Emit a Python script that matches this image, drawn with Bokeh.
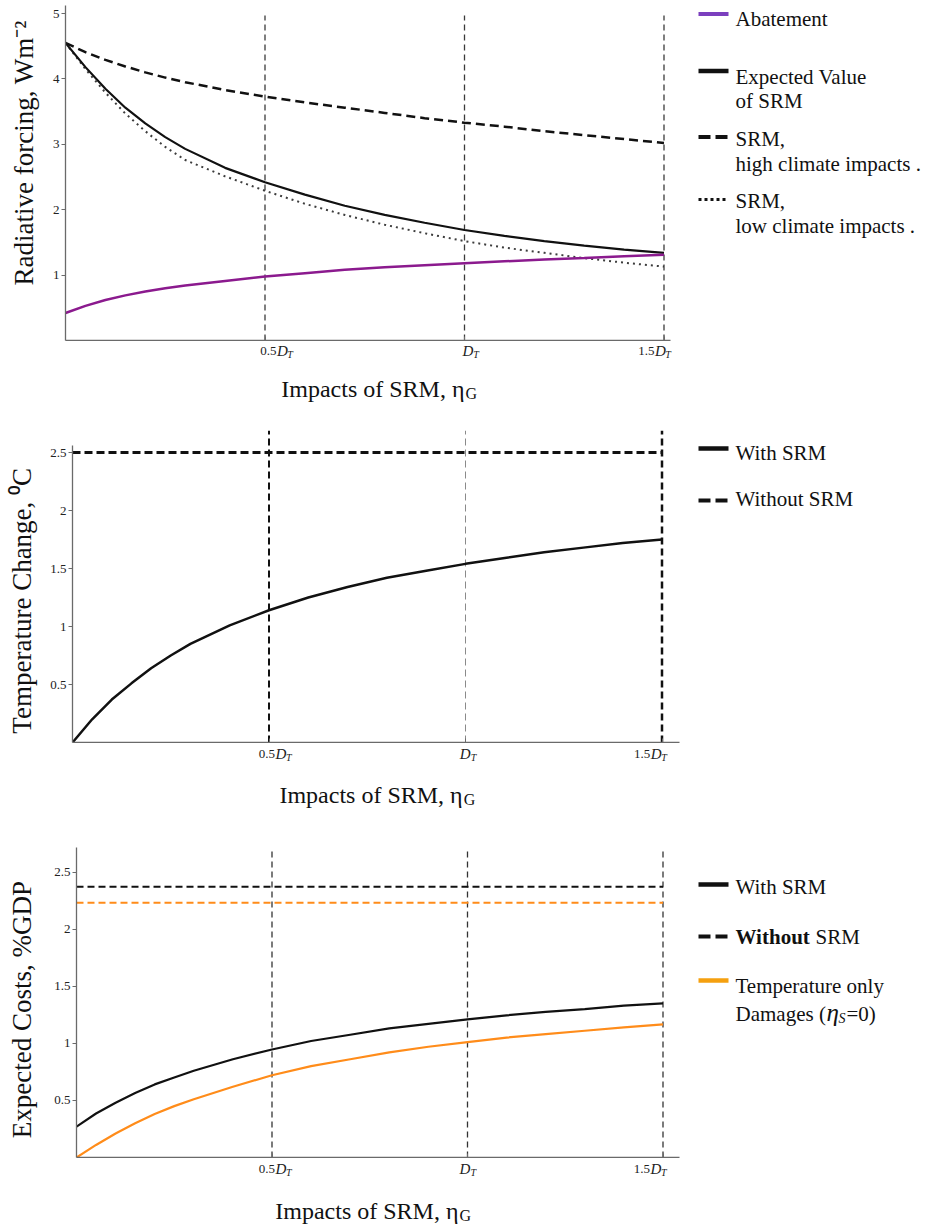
import math
from bokeh.plotting import figure
from bokeh.models import Range1d, FixedTicker, Label, LinearAxis, ColumnDataSource
from bokeh.layouts import column, row
from bokeh.embed import file_html
from bokeh.resources import INLINE

# ---------------- data ----------------
eta = [0, 0.05, 0.1, 0.15, 0.2, 0.25, 0.3, 0.4, 0.5, 0.6, 0.7, 0.8, 0.9, 1.0, 1.1, 1.2, 1.3, 1.4, 1.5]

rf_abatement = [0.42, 0.53, 0.62, 0.69, 0.75, 0.80, 0.84, 0.91, 0.98, 1.03, 1.08, 1.12, 1.15, 1.18, 1.21, 1.24, 1.26, 1.29, 1.31]
rf_expected = [4.55, 4.18, 3.85, 3.56, 3.32, 3.11, 2.93, 2.64, 2.42, 2.23, 2.06, 1.92, 1.80, 1.69, 1.60, 1.52, 1.45, 1.39, 1.34]
rf_high = [4.55, 4.41, 4.29, 4.19, 4.10, 4.02, 3.95, 3.83, 3.73, 3.64, 3.56, 3.48, 3.40, 3.33, 3.27, 3.20, 3.14, 3.08, 3.02]
rf_low = [4.55, 4.15, 3.79, 3.47, 3.20, 2.96, 2.76, 2.51, 2.29, 2.09, 1.92, 1.77, 1.64, 1.52, 1.42, 1.34, 1.26, 1.19, 1.13]

temp_with = [0.0, 0.20, 0.37, 0.51, 0.64, 0.75, 0.85, 1.01, 1.14, 1.25, 1.34, 1.42, 1.48, 1.54, 1.59, 1.64, 1.68, 1.72, 1.75]
flat_x = [0, 1.5]
temp_without = [2.5, 2.5]

cost_with = [0.27, 0.385, 0.48, 0.565, 0.64, 0.70, 0.76, 0.86, 0.946, 1.02, 1.075, 1.13, 1.17, 1.21, 1.245, 1.275, 1.30, 1.33, 1.35]
cost_temp_only = [0.0, 0.11, 0.21, 0.30, 0.38, 0.45, 0.51, 0.62, 0.72, 0.80, 0.86, 0.92, 0.97, 1.01, 1.05, 1.08, 1.11, 1.14, 1.165]
cost_without = [2.37, 2.37]
cost_without_temp = [2.23, 2.23]

dt_marks = [0.5, 1.0, 1.5]
dt_prefix = ["0.5", "", "1.5"]
rf_ticks = [1, 2, 3, 4, 5]
rf_tick_labels = ["1", "2", "3", "4", "5"]
half_ticks = [0.5, 1, 1.5, 2, 2.5]
half_tick_labels = ["0.5", "1", "1.5", "2", "2.5"]

# ---------------- layout helpers ----------------
FONT = "Liberation Serif"
ORIGIN = 0          # page offset of the layout's top-left corner
PAGE_RIGHT = 922
FIG_W = PAGE_RIGHT - ORIGIN
YS_W = 40           # width of the strip holding the rotated y title
AXIS_GREY = "#6a6a6a"


def bare(fig):
    fig.outline_line_color = None
    fig.background_fill_color = "white"
    fig.border_fill_color = "white"
    return fig


def make_panel(top, main_bottom, strip_bottom, frame_top, frame_bottom, axis_x, xs, ys):
    x1 = (PAGE_RIGHT - axis_x) / xs
    y1 = (frame_bottom - frame_top) / ys
    h_main = main_bottom - top
    xr = Range1d(0, x1)
    main = bare(figure(width=FIG_W - YS_W, height=h_main, x_range=xr, y_range=Range1d(0, y1),
                       output_backend="svg", toolbar_location=None, x_axis_type=None, y_axis_type=None,
                       min_border_left=axis_x - ORIGIN - YS_W, min_border_right=0,
                       min_border_top=frame_top - top, min_border_bottom=main_bottom - frame_bottom))
    ystrip = bare(figure(width=YS_W, height=h_main, x_range=Range1d(ORIGIN, ORIGIN + YS_W),
                         y_range=Range1d(main_bottom, top), output_backend="svg", toolbar_location=None,
                         x_axis_type=None, y_axis_type=None, min_border=0))
    xstrip = bare(figure(width=FIG_W, height=strip_bottom - main_bottom, x_range=xr,
                         y_range=Range1d(strip_bottom, main_bottom), output_backend="svg",
                         toolbar_location=None, x_axis_type=None, y_axis_type=None,
                         min_border_left=axis_x - ORIGIN, min_border_right=0, min_border_top=0,
                         min_border_bottom=0))
    spec = dict(axis_x=axis_x, xs=xs, ys=ys, fb=frame_bottom, y1=y1)
    return main, ystrip, xstrip, spec


def dx(spec, px):
    return (px - spec["axis_x"]) / spec["xs"]


def dy(spec, py):
    return (spec["fb"] - py) / spec["ys"]


def label(fig, x, y, s, size, align="left", baseline="middle", style="normal", angle=0.0, color="#111111"):
    fig.add_layout(Label(x=x, y=y, text=s, text_font=FONT, text_font_size=f"{size}px",
                         text_align=align, text_baseline=baseline, text_font_style=style,
                         angle=angle, text_color=color))


def text(p, spec, px, py, s, size, **kw):
    label(p, dx(spec, px), dy(spec, py), s, size, **kw)


def swatch(p, spec, px0, px1, py, color, width, dash="solid"):
    p.segment(x0=[dx(spec, px0)], y0=[dy(spec, py)], x1=[dx(spec, px1)], y1=[dy(spec, py)],
              line_color=color, line_width=width, line_dash=dash, line_cap="butt")


def axes(p, yticks, ylabels, xbound_end, ybound_end):
    xa = LinearAxis(ticker=FixedTicker(ticks=dt_marks), bounds=(0, xbound_end),
                    major_label_overrides={t: "" for t in dt_marks},
                    major_label_text_font_size="0px", major_label_standoff=0,
                    axis_line_color=AXIS_GREY, axis_line_width=1.3,
                    major_tick_line_color=AXIS_GREY, major_tick_in=4, major_tick_out=0,
                    minor_tick_line_color=None)
    p.add_layout(xa, "below")
    ya = LinearAxis(ticker=FixedTicker(ticks=yticks), bounds=(0, ybound_end),
                    major_label_overrides={t: l for t, l in zip(yticks, ylabels)},
                    axis_line_color=AXIS_GREY, axis_line_width=1.3,
                    major_tick_line_color=AXIS_GREY, major_tick_in=0, major_tick_out=4,
                    minor_tick_line_color=None, major_label_standoff=2,
                    major_label_text_font=FONT, major_label_text_font_size="13px",
                    major_label_text_color="#222222")
    p.add_layout(ya, "left")


# offsets (px from tick) for: prefix right edge, "D" left edge, "T" left edge
DT_OFFSETS = [(3, 3.5, 14), (0, -8, 3), (-13, -12.5, -2)]


def dt_labels(xstrip, spec, mid_py):
    for t, pre, (o_pre, o_d, o_t) in zip(dt_marks, dt_prefix, DT_OFFSETS):
        px = lambda off: t + off / spec["xs"]
        if pre:
            label(xstrip, px(o_pre), mid_py, pre, 13, align="right", color="#222222")
        label(xstrip, px(o_d), mid_py, "D", 15, style="italic", color="#222222")
        label(xstrip, px(o_t), mid_py + 4, "T", 10, style="italic", color="#222222")


def x_title(xstrip, spec, anchor_px, mid_py):
    label(xstrip, dx(spec, anchor_px), mid_py, "Impacts of SRM, η", 24, align="right")
    label(xstrip, dx(spec, anchor_px + 1), mid_py + 5, "G", 16)


def y_title(ystrip, px, py, s):
    label(ystrip, px, py, s, 27, align="center", angle=math.pi / 2)


def verticals(p, top, widths, colors, dash):
    src = ColumnDataSource(dict(x=dt_marks, y0=[0] * len(dt_marks), y1=[top] * len(dt_marks),
                                w=widths, c=colors))
    p.segment(x0="x", y0="y0", x1="x", y1="y1", source=src, line_width="w", line_color="c",
              line_dash=dash)


SW0, SW1, TX = 698, 728, 735

# ---------------- panel 1: radiative forcing ----------------
p1, y1s, x1s, s1 = make_panel(top=0, main_bottom=341, strip_bottom=415, frame_top=5, frame_bottom=340,
                              axis_x=65, xs=399, ys=65.4)
axes(p1, rf_ticks, rf_tick_labels, 1.516, s1["y1"])
verticals(p1, 4.97, [1.3, 1.3, 1.3], ["#3a3a3a"] * 3, "6 4")
p1.line(eta, rf_high, line_color="#111111", line_width=2.5, line_dash="9 5")
p1.line(eta, rf_low, line_color="#3c3c3c", line_width=2, line_dash="2 4")
p1.line(eta, rf_expected, line_color="#111111", line_width=2.2)
p1.line(eta, rf_abatement, line_color="#8b1a8e", line_width=2.5)
dt_labels(x1s, s1, 350)
x_title(x1s, s1, 458, 388)
y_title(y1s, 23, 150, "Radiative forcing, Wm⁻²")
swatch(p1, s1, SW0, SW1, 13.5, "#7b3fbe", 4)
text(p1, s1, TX, 18, "Abatement", 21)
swatch(p1, s1, SW0, SW1, 70.5, "#111111", 4.5)
text(p1, s1, TX, 76, "Expected Value", 21)
text(p1, s1, TX, 100, "of SRM", 21)
swatch(p1, s1, SW0, SW1, 136.5, "#111111", 4, "12 5")
text(p1, s1, TX, 138, "SRM,", 21)
text(p1, s1, TX, 163, "high climate impacts .", 21)
swatch(p1, s1, SW0, SW1, 199, "#111111", 3, "3 3")
text(p1, s1, TX, 200, "SRM,", 21)
text(p1, s1, TX, 225, "low climate impacts .", 21)

# ---------------- panel 2: temperature change ----------------
p2, y2s, x2s, s2 = make_panel(top=415, main_bottom=743, strip_bottom=835, frame_top=430, frame_bottom=742,
                              axis_x=72, xs=393, ys=116)
axes(p2, half_ticks, half_tick_labels, 1.545, 2.56)
verticals(p2, s2["y1"], [2, 1, 2.5], ["#111111", "#8a8a8a", "#111111"], "7 4")
p2.line(flat_x, temp_without, line_color="#111111", line_width=3, line_dash="8 4")
p2.line(eta, temp_with, line_color="#111111", line_width=2.5)
dt_labels(x2s, s2, 753)
x_title(x2s, s2, 460, 794)
y_title(y2s, 21, 594, "Temperature Change, ⁰C")
swatch(p2, s2, SW0, SW1, 448, "#111111", 4.5)
text(p2, s2, TX, 452, "With SRM", 21)
swatch(p2, s2, SW0, SW1, 500, "#111111", 4, "12 5")
text(p2, s2, TX, 498, "Without SRM", 21)

# ---------------- panel 3: expected costs ----------------
p3, y3s, x3s, s3 = make_panel(top=835, main_bottom=1158, strip_bottom=1226, frame_top=847, frame_bottom=1157,
                              axis_x=76, xs=391, ys=114.2)
axes(p3, half_ticks, half_tick_labels, 1.542, s3["y1"])
verticals(p3, s3["y1"], [1.3, 1.3, 1.3], ["#333333"] * 3, "6 4")
p3.line(flat_x, cost_without, line_color="#111111", line_width=2, line_dash="7 4")
p3.line(flat_x, cost_without_temp, line_color="#ff8c1a", line_width=2, line_dash="7 4")
p3.line(eta, cost_with, line_color="#111111", line_width=2.2)
p3.line(eta, cost_temp_only, line_color="#ff8c1a", line_width=2.2)
dt_labels(x3s, s3, 1168)
x_title(x3s, s3, 458, 1210)
y_title(y3s, 21, 1004, "Expected Costs, %GDP")
swatch(p3, s3, SW0, SW1, 884, "#111111", 4.5)
text(p3, s3, TX, 886, "With SRM", 21)
swatch(p3, s3, SW0, SW1, 936, "#111111", 4, "12 5")
text(p3, s3, TX, 936, "Without", 21, style="bold")
text(p3, s3, 815, 936, "SRM", 21)
swatch(p3, s3, SW0, SW1, 980, "#f5a00f", 4.5)
text(p3, s3, TX, 985, "Temperature only", 21)
text(p3, s3, TX, 1013, "Damages (", 21)
text(p3, s3, 826, 1012, "η", 25, style="italic")
text(p3, s3, 838, 1018, "S", 14, style="italic")
text(p3, s3, 846, 1013, "=0)", 21)

layout = column(row(y1s, p1), x1s, row(y2s, p2), x2s, row(y3s, p3), x3s)
open("out.html", "w").write(file_html(layout, INLINE))
